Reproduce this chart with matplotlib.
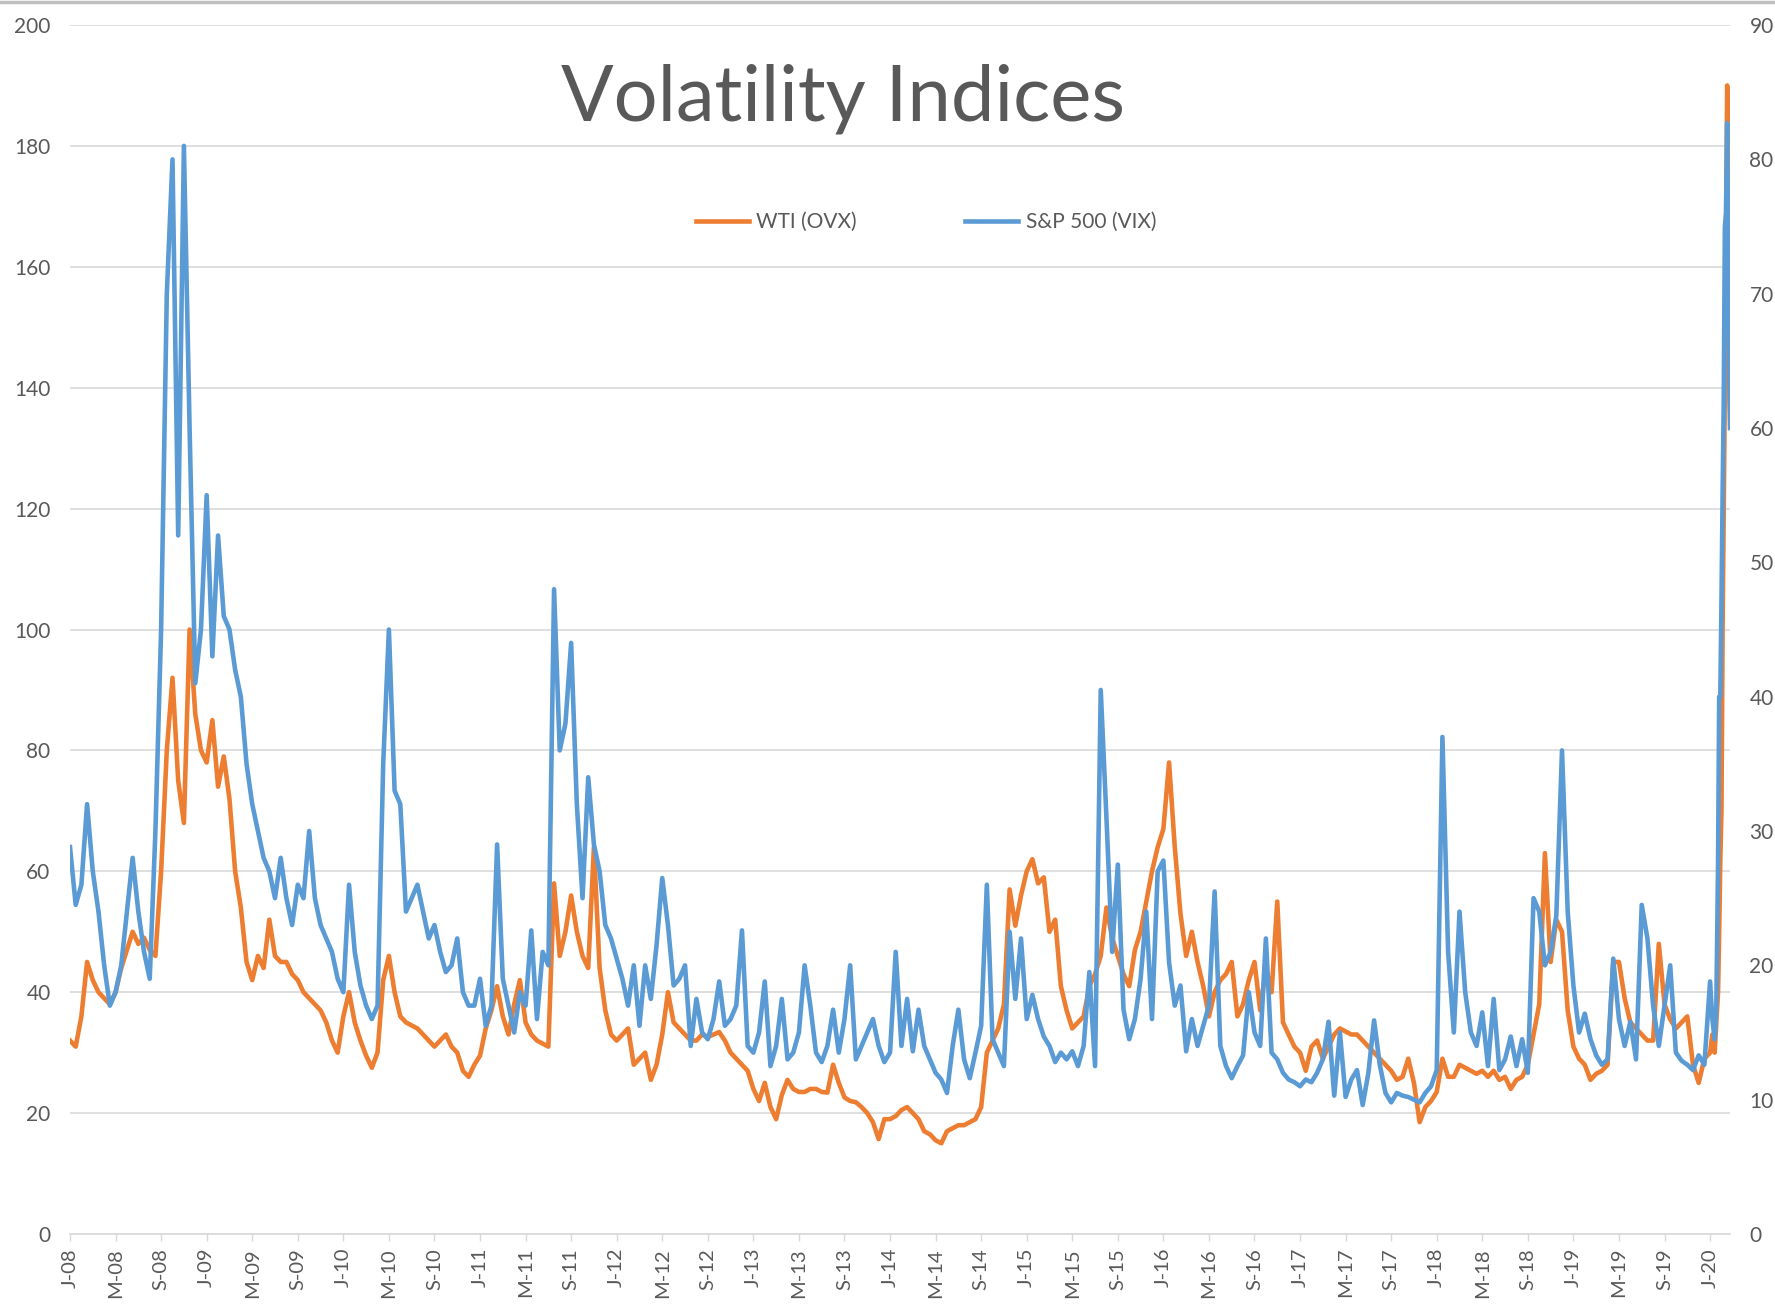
import numpy as np
import matplotlib.pyplot as plt
from matplotlib.lines import Line2D

plt.rcParams['font.family'] = ['Lato', 'DejaVu Sans']

# x position = months since Jan 2008, read in half-month steps off the chart
t_main = np.arange(0, 144.5, 0.5)
# finer steps for the 2020 spike at the right edge
t_tail = [144.2, 144.4, 144.55, 144.7, 144.8, 144.9, 145.0, 145.1, 145.2,
          145.3, 145.4, 145.5, 145.6, 145.7, 145.75]

# S&P 500 VIX (right axis)
vix_2008 = [28.8, 24.5, 26, 32, 27, 24, 20, 17, 18, 20, 24, 28, 24, 21, 19, 30, 45, 70, 80, 52, 81, 60, 41, 45]
vix_2009 = [55, 43, 52, 46, 45, 42, 40, 35, 32, 30, 28, 27, 25, 28, 25, 23, 26, 25, 30, 25, 23, 22, 21, 19]
vix_2010 = [18, 26, 21, 18.5, 17, 16, 17, 35, 45, 33, 32, 24, 25, 26, 24, 22, 23, 21, 19.5, 20, 22, 18, 17, 17]
vix_2011 = [19, 15.5, 17, 29, 19, 17, 15, 18, 17, 22.6, 16, 21, 20, 48, 36, 38, 44, 32, 25, 34, 29, 27, 23, 22]
vix_2012 = [20.5, 19, 17, 20, 15.5, 20, 17.5, 21.5, 26.5, 23, 18.5, 19, 20, 14, 17.5, 15, 14.5, 16, 18.8, 15.5, 16, 17, 22.6, 14]
vix_2013 = [13.5, 15, 18.8, 12.5, 14, 17.5, 13, 13.5, 15, 20, 17, 13.5, 12.8, 14, 16.7, 13.5, 16, 20, 13, 14, 15, 16, 14, 12.8]
vix_2014 = [13.5, 21, 14, 17.5, 13.6, 16.7, 14, 13, 12, 11.5, 10.5, 14, 16.7, 13, 11.6, 13.5, 15.5, 26, 14.5, 13.5, 12.5, 22.5, 17.5, 22]
vix_2015 = [16, 17.8, 16, 14.7, 14, 12.8, 13.5, 13, 13.6, 12.5, 14, 19.5, 12.5, 40.5, 31, 21, 27.5, 16.7, 14.5, 16, 19, 24, 16, 27]
vix_2016 = [27.8, 20.2, 17, 18.5, 13.6, 16, 14, 15.5, 17, 25.5, 14, 12.5, 11.6, 12.5, 13.3, 18, 15, 14, 22, 13.5, 13, 12, 11.5, 11.3]
vix_2017 = [11, 11.5, 11.3, 12, 13, 15.8, 10.3, 15, 10.2, 11.5, 12.2, 9.6, 12, 15.9, 12.6, 10.5, 9.8, 10.5, 10.3, 10.2, 10, 9.8, 10.5, 11]
vix_2018 = [12.2, 37, 21, 15, 24, 18, 15, 14, 16.5, 12.5, 17.5, 12.2, 13, 14.7, 12.5, 14.5, 12, 25, 24, 20, 21, 23.7, 36, 24]
vix_2019 = [18.5, 15, 16.4, 14.5, 13.3, 12.6, 13, 20.5, 16, 14, 15.8, 13, 24.5, 22, 17, 14, 17, 20, 13.5, 12.9, 12.6, 12.2, 13.3, 12.6]
vix_2020 = [18.8, 16, 14.5, 17, 27.5, 40, 40, 47, 55, 62, 75, 76, 82.7, 72, 62, 60]

# WTI OVX (left axis)
ovx_2008 = [32, 31, 36, 45, 42, 40, 39, 38, 40, 44, 47, 50, 48, 49, 47, 46, 60, 80, 92, 75, 68, 100, 86, 80]
ovx_2009 = [78, 85, 74, 79, 72, 60, 54, 45, 42, 46, 44, 52, 46, 45, 45, 43, 42, 40, 39, 38, 37, 35, 32, 30]
ovx_2010 = [36, 40, 35, 32, 29.5, 27.5, 30, 42, 46, 40, 36, 35, 34.5, 34, 33, 32, 31, 32, 33, 31, 30, 27, 26, 28]
ovx_2011 = [29.5, 34, 37, 41, 36, 33, 38, 42, 35, 33, 32, 31.5, 31, 58, 46, 50, 56, 50, 46, 44, 64, 44, 37, 33]
ovx_2012 = [32, 33, 34, 28, 29, 30, 25.5, 28, 33, 40, 35, 34, 33, 32, 32, 33, 32.6, 33, 33.4, 32, 30, 29, 28, 27]
ovx_2013 = [24, 22, 25, 21, 19, 23, 25.5, 24, 23.5, 23.5, 24, 24, 23.5, 23.4, 28, 25, 22.6, 22, 21.8, 21, 20, 18.5, 15.7, 19]
ovx_2014 = [19, 19.5, 20.5, 21, 20, 19, 17, 16.5, 15.5, 15, 17, 17.5, 18, 18, 18.5, 19, 21, 30, 32, 34, 38, 57, 51, 56]
ovx_2015 = [60, 62, 58, 59, 50, 52, 41, 37, 34, 35, 36, 41, 43, 46, 54, 49, 46, 43, 41, 47, 50, 55, 60, 64]
ovx_2016 = [67, 78, 64, 53, 46, 50, 45, 41, 36, 40, 42, 43, 45, 36, 38, 42, 45, 37, 44, 40, 55, 35, 33, 31]
ovx_2017 = [30, 27, 31, 32, 29, 31, 33, 34, 33.5, 33, 33, 32, 31, 30, 29, 28, 27, 25.5, 26, 29, 25, 18.5, 21, 22]
ovx_2018 = [23.5, 29, 26, 26, 28, 27.5, 27, 26.5, 27, 26, 27, 25.5, 26, 24, 25.5, 26, 28, 33, 38, 63, 45, 52, 50, 37]
ovx_2019 = [31, 29, 28, 25.5, 26.5, 27, 28, 45, 45, 39, 35, 34, 33, 32, 32, 48, 38, 35.5, 34, 35, 36, 28, 25, 29]
ovx_2020 = [30, 33, 30, 35, 40, 50, 62, 70, 100, 120, 140, 165, 190, 185, 172, 170]

years = list(range(2008, 2021))
tick_labels = []
for y in years:
    for m in ['J', 'M', 'S']:
        tick_labels.append(f'{m}-{str(y)[2:]}')
tick_labels = tick_labels[:37]

months = np.concatenate([t_main, t_tail])
vix = np.array(vix_2008 + vix_2009 + vix_2010 + vix_2011 + vix_2012 + vix_2013 + vix_2014
               + vix_2015 + vix_2016 + vix_2017 + vix_2018 + vix_2019 + vix_2020)
ovx = np.array(ovx_2008 + ovx_2009 + ovx_2010 + ovx_2011 + ovx_2012 + ovx_2013 + ovx_2014
               + ovx_2015 + ovx_2016 + ovx_2017 + ovx_2018 + ovx_2019 + ovx_2020)

text_col = '#595959'
grid_col = '#d9d9d9'

W, H = 1775, 1311
fig = plt.figure(figsize=(W / 100, H / 100), dpi=100)
ax = fig.add_axes([70 / W, 1 - 1234 / H, (1730 - 70) / W, (1234 - 25) / H])
ax2 = ax.twinx()

ax.plot(months, ovx, color='#ED7D31', lw=3.3, label='WTI (OVX)', solid_joinstyle='round')
ax2.plot(months, vix, color='#5B9BD5', lw=3.3, label='S&P 500 (VIX)', solid_joinstyle='round')

ax.set_xlim(0, 145.75)
ax.set_ylim(0, 200)
ax2.set_ylim(0, 90)
ax.set_yticks(range(0, 201, 20))
ax2.set_yticks(range(0, 91, 10))
ax.set_xticks(range(0, 145, 4))
ax.set_xticklabels(tick_labels, rotation=90)

ax.grid(axis='y', color=grid_col, lw=1.2)
ax.set_axisbelow(True)
for a in (ax, ax2):
    for s in a.spines.values():
        s.set_visible(False)
ax.spines['bottom'].set_visible(True)
ax.spines['bottom'].set_color(grid_col)
ax.spines['bottom'].set_linewidth(1.2)

ax.tick_params(axis='y', length=0, pad=14, labelsize=15, labelcolor=text_col)
ax2.tick_params(axis='y', length=0, pad=14, labelsize=15, labelcolor=text_col)
ax.tick_params(axis='x', length=5, width=1, color=grid_col, pad=5, labelsize=14.5, labelcolor=text_col)

fig.text(0.475, 1 - 121 / H, 'Volatility Indices', ha='center', va='baseline',
         fontsize=56, color=text_col)

h1, l1 = ax.get_legend_handles_labels()
h2, l2 = ax2.get_legend_handles_labels()
leg = ax2.legend(h1 + h2, l1 + l2, loc='center', bbox_to_anchor=(926 / W, 1 - 222 / H),
                 bbox_transform=fig.transFigure, ncol=2, frameon=False, fontsize=15,
                 handlelength=2.55, handletextpad=0.35, columnspacing=5.2, borderpad=0)
for t in leg.get_texts():
    t.set_color(text_col)

fig.add_artist(Line2D([0, 1], [1 - 1.5 / H, 1 - 1.5 / H], transform=fig.transFigure,
                      color='#c0c0c0', lw=2.5))

fig.savefig('out.png', dpi=100)
